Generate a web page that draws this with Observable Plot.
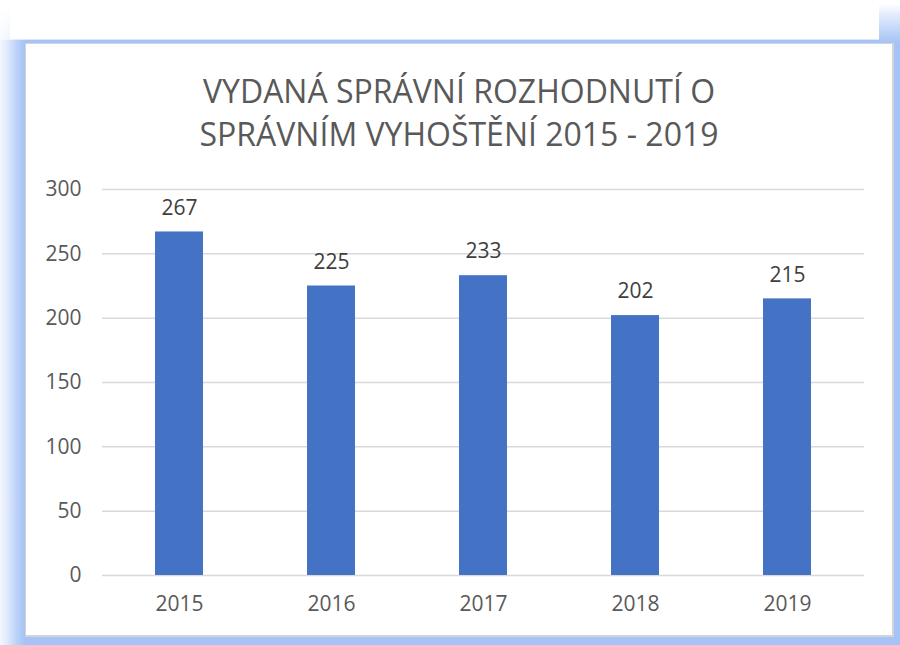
<!DOCTYPE html>
<html>
<head>
<meta charset="utf-8">
<script src="https://cdn.jsdelivr.net/npm/d3@7"></script>
<script src="https://cdn.jsdelivr.net/npm/@observablehq/plot@0.6"></script>
<style>
  html, body { margin: 0; padding: 0; background: #fff; }
  body { width: 900px; height: 645px; position: relative; overflow: hidden; font-family: "Open Sans", "Noto Sans", sans-serif; }
  .abs { position: absolute; }
  #panel { position: absolute; left: 25px; top: 43px; width: 866px; height: 591px; background: #fff; border: 1px solid #d4d4d4; border-right-width: 2px; border-bottom-width: 2px; }
  .title { position: absolute; left: 0; width: 100%; text-align: center; color: #595959; font-size: 32px; white-space: nowrap; line-height: 40px; }
  #chart { position: absolute; left: 0; top: 117px; }
</style>
</head>
<body>
<div class="abs" style="left:0;top:0;width:900px;height:645px;background:#a5c3f6;"></div>
<div class="abs" style="left:0;top:0;width:25px;height:645px;background:linear-gradient(to right,#f3f7fe,#dfe9fc 30%,#b8cff8 70%,#a5c3f6);"></div>
<div class="abs" style="left:0;top:0;width:900px;height:40px;background:linear-gradient(to bottom,#ffffff,#ffffff 20%,rgba(255,255,255,0.6));"></div>
<div class="abs" style="left:879px;top:0;width:21px;height:45px;background:linear-gradient(to bottom,#ffffff 8%,#e6eefd 30%,#a5c3f6 95%);"></div>
<div class="abs" style="left:10px;top:0;width:869px;height:39px;background:#fff;"></div>
<div id="panel">
  <div class="title" style="top:27px;">VYDANÁ SPRÁVNÍ ROZHODNUTÍ O</div>
  <div class="title" style="top:70px;">SPRÁVNÍM VYHOŠTĚNÍ 2015 - 2019</div>
  <div id="chart"></div>
</div>
<script>
const years = ["2015", "2016", "2017", "2018", "2019"];
const counts = [267, 225, 233, 202, 215];
const yTicks = [0, 50, 100, 150, 200, 250, 300];

const data = years.map((y, i) => ({year: y, value: counts[i]}));

const chart = Plot.plot({
  width: 866,
  height: 475,
  marginLeft: 76,
  marginRight: 28,
  marginTop: 28,
  marginBottom: 61,
  style: {fontFamily: "'Open Sans', 'Noto Sans', sans-serif", fontSize: "21px", color: "#595959", background: "transparent"},
  x: {domain: years, paddingInner: 0.685, paddingOuter: 0.3425, label: null, tickSize: 0, tickPadding: 21},
  y: {domain: [0, 300], ticks: yTicks, label: null, tickSize: 0, tickPadding: 21},
  marks: [
    Plot.gridY(yTicks, {stroke: "#d9d9d9", strokeOpacity: 1, strokeWidth: 1.5}),
    Plot.barY(data, {x: "year", y: "value", fill: "#4472c4"}),
    Plot.text(data, {x: "year", y: "value", text: d => String(d.value), dy: -24, fill: "#404040", fontSize: 21})
  ]
});
document.getElementById("chart").appendChild(chart);
</script>
</body>
</html>
